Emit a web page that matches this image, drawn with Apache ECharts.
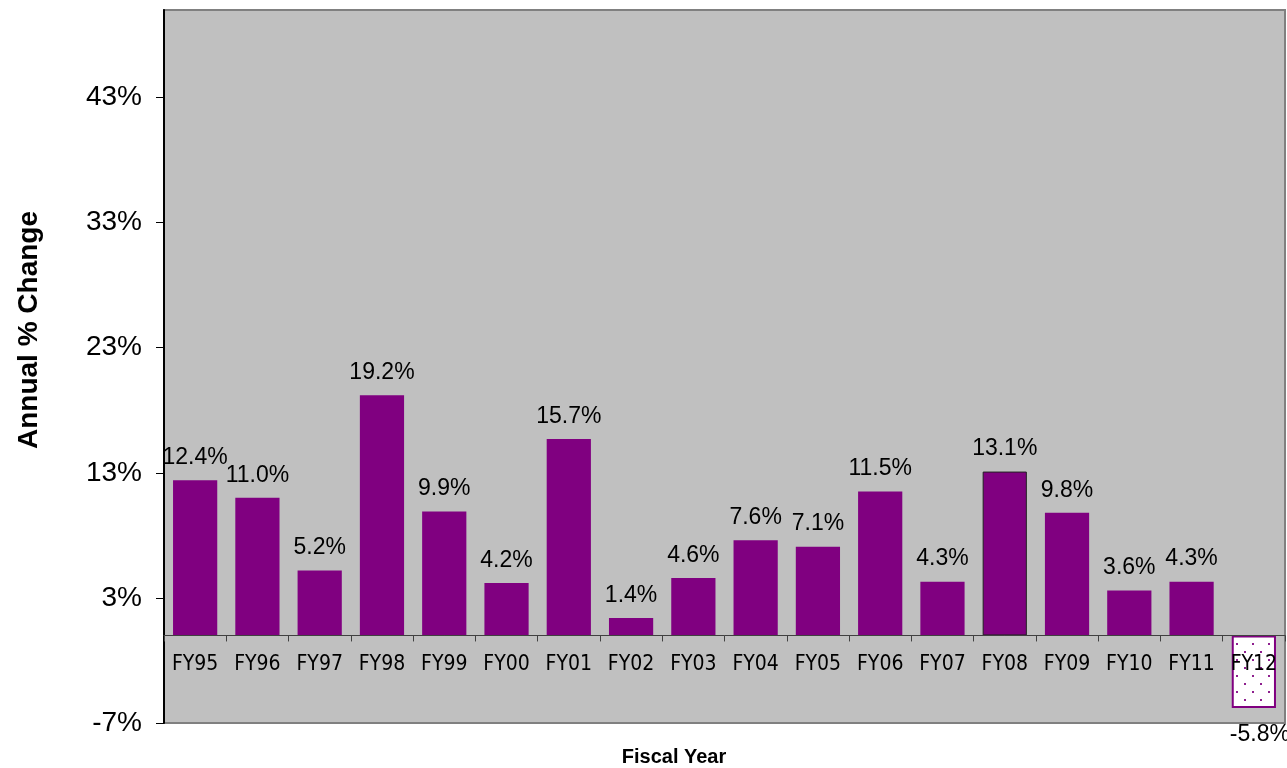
<!DOCTYPE html>
<html>
<head>
<meta charset="utf-8">
<script src="https://cdn.jsdelivr.net/npm/echarts@6/dist/echarts.min.js"></script>
<style>
html,body{margin:0;padding:0;background:#fff;}
#chart{width:1287px;height:768px;}
</style>
</head>
<body>
<div id="chart"></div>
<script>
const categories = ['FY95','FY96','FY97','FY98','FY99','FY00','FY01','FY02','FY03','FY04','FY05','FY06','FY07','FY08','FY09','FY10','FY11','FY12'];
const values = [12.4, 11.0, 5.2, 19.2, 9.9, 4.2, 15.7, 1.4, 4.6, 7.6, 7.1, 11.5, 4.3, 13.1, 9.8, 3.6, 4.3, -5.8];
const yTicks = { min: -7, max: 50, interval: 10 };

// dotted pattern for the projected year
const pat = document.createElement('canvas');
pat.width = 16; pat.height = 16;
const pc = pat.getContext('2d');
pc.fillStyle = '#ffffff';
pc.fillRect(0, 0, 16, 16);
pc.fillStyle = '#8e1f8e';
pc.fillRect(4, 3, 2, 2);
pc.fillRect(12, 11, 2, 2);

const data = values.map((v, i) => {
  const item = { value: v };
  if (categories[i] === 'FY12') {
    item.itemStyle = { color: { image: pat, repeat: 'repeat' }, borderColor: '#800080', borderWidth: 2 };
  } else if (categories[i] === 'FY08') {
    item.itemStyle = { borderColor: '#222', borderWidth: 1 };
  }
  if (v < 0) item.label = { position: 'bottom', distance: 15, offset: [6, 0] };
  return item;
});

const GRID_BOTTOM = 45;
const chart = echarts.init(document.getElementById('chart'), null, { renderer: 'canvas' });
const option = {
  animation: false,
  grid: { left: 164, right: 2, top: 10, bottom: GRID_BOTTOM, show: true, backgroundColor: '#C0C0C0', borderColor: '#808080', borderWidth: 2 },
  xAxis: {
    type: 'category',
    data: categories,
    z: 5,
    offset: 0,
    axisLine: { onZero: false, lineStyle: { color: '#404040', width: 1 } },
    axisTick: { show: true, alignWithLabel: false, length: 6, inside: false, lineStyle: { color: '#404040' } },
    axisLabel: { margin: 19, fontFamily: '"Liberation Sans Narrow", "Arial Narrow", "DejaVu Sans Condensed", sans-serif', fontSize: 21, color: '#000' },
    splitLine: { show: false }
  },
  yAxis: {
    type: 'value',
    min: yTicks.min, max: yTicks.max, interval: yTicks.interval,
    axisLine: { show: true, lineStyle: { color: '#000', width: 2 } },
    axisTick: { show: true, length: 8, lineStyle: { color: '#000' } },
    axisLabel: { showMaxLabel: false, margin: 22, formatter: v => v + '%', fontFamily: '"Liberation Sans", Arial, sans-serif', fontSize: 28, color: '#000' },
    splitLine: { show: false }
  },
  series: [{
    type: 'bar',
    data: data,
    barWidth: '71%',
    itemStyle: { color: '#800080' },
    label: {
      show: true,
      formatter: p => p.value.toFixed(1) + '%',
      fontFamily: '"Liberation Sans", Arial, sans-serif',
      fontSize: 23,
      color: '#000',
      position: 'top',
      distance: 11
    }
  }],
  graphic: [
    { type: 'text', x: 29, y: 330, rotation: Math.PI / 2,
      style: { text: 'Annual % Change', font: 'bold 28px "Liberation Sans", Arial, sans-serif', fill: '#000', textAlign: 'center', textVerticalAlign: 'middle' } },
    { type: 'text', x: 674, y: 757,
      style: { text: 'Fiscal Year', font: 'bold 20px "Liberation Sans", Arial, sans-serif', fill: '#000', textAlign: 'center', textVerticalAlign: 'middle' } }
  ]
};
chart.setOption(option);
// move the category axis (line, ticks, labels) up to the zero line
const zeroY = chart.convertToPixel({ yAxisIndex: 0 }, 0);
const bottomY = 768 - GRID_BOTTOM;
chart.setOption({ xAxis: { offset: zeroY - bottomY } });
</script>
</body>
</html>
